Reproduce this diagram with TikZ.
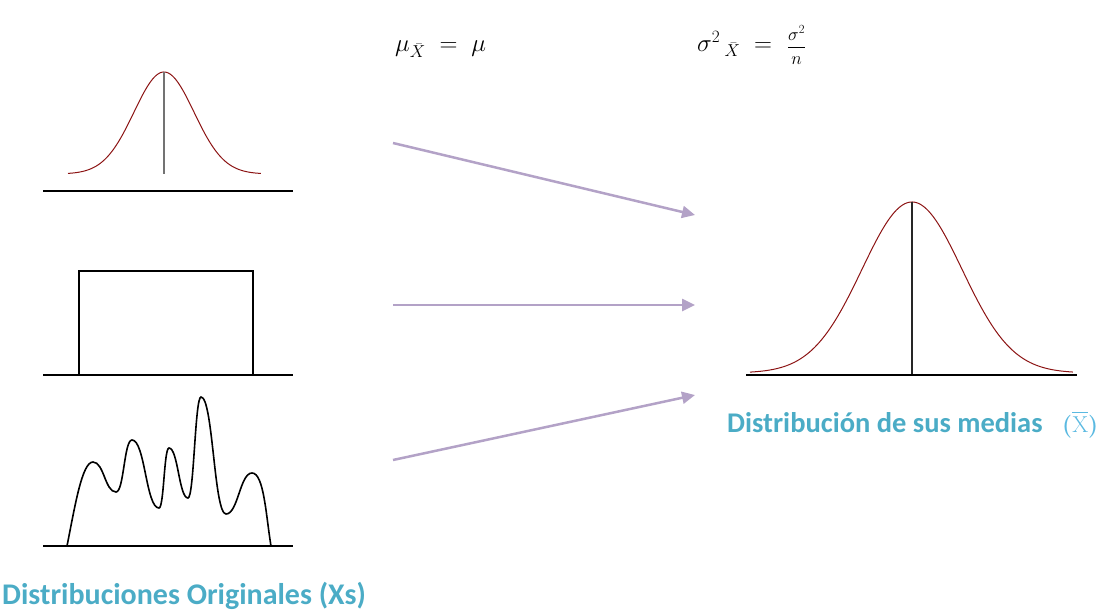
\documentclass[tikz,border=0pt]{standalone}
\usepackage{fontspec}
\usepackage{amsmath}
\usepackage{graphicx}
\newfontfamily\carlito{Carlito}
\usetikzlibrary{arrows.meta}
\definecolor{capblue}{RGB}{75,172,198}
\definecolor{iconblue}{RGB}{90,185,225}
\definecolor{arrowpurple}{RGB}{179,162,199}
\definecolor{curvered}{RGB}{140,20,20}
\tikzset{
  axisline/.style={line width=2pt,black},
  bell/.style={curvered,line width=1pt},
  meanline/.style={line width=1.2pt},
  flow/.style={arrowpurple,line width=2.5pt,-{Triangle[length=13pt,width=12pt]}},
  caption/.style={font=\carlito\bfseries\fontsize{30}{36}\selectfont,text=capblue,inner sep=0pt},
  formula/.style={font=\fontsize{27}{32}\selectfont,inner sep=0pt}
}
\begin{document}
\begin{tikzpicture}[x=1pt,y=1pt]
\useasboundingbox (0,0) rectangle (1099,-610);
% formulas
\node[formula,anchor=base west] (f1) at (395,-52) {$\mu_{\bar{X}} \mkern5mu=\mkern5mu \mu$};
\node[formula,anchor=west] (f2) at (697,-45) {$\sigma^{2}\,{}_{\bar{X}} \mkern5mu=\mkern6mu \vcenter{\hbox{\scalebox{0.72}{$\dfrac{\sigma^{2}}{n}$}}}$};
% top-left normal
\draw[axisline] (43,-191) -- (293,-191);
\draw[bell] plot[domain=-3.2:3.23,samples=120,smooth] ({164+30*\x},{-174+102*exp(-\x*\x/2)});
\draw[meanline,black!55] (164,-72) -- (164,-174);
% uniform
\draw[axisline] (43,-375) -- (293,-375);
\draw[line width=1.6pt] (79,-375) -- (79,-271) -- (253,-271) -- (253,-375);
% multimodal
\draw[axisline] (43,-546) -- (293,-546);
\draw[line width=1.6pt] (67,-546) .. controls +(8,40) and +(-11,0) .. (93,-462)
  .. controls +(11,0) and +(-11,0) .. (116,-492)
  .. controls +(8,0) and +(-8,0) .. (132,-440)
  .. controls +(13,0) and +(-13,0) .. (159,-508)
  .. controls +(5,0) and +(-5,0) .. (169,-448)
  .. controls +(9,0) and +(-9,0) .. (188,-498)
  .. controls +(6,0) and +(-6,0) .. (201,-397)
  .. controls +(12,0) and +(-12,0) .. (226,-514)
  .. controls +(12,0) and +(-12,0) .. (252,-473)
  .. controls +(12,0) and +(-5,30) .. (271,-546);
% right normal
\draw[axisline] (746,-375) -- (1077,-375);
\draw[bell] plot[domain=-3.24:3.22,samples=160,smooth] ({912+50*\x},{-373+171*exp(-\x*\x/2)});
\draw[meanline,black!85] (912,-202) -- (912,-374);
% arrows
\coordinate (a1s) at (393,-143); \coordinate (a1e) at (695,-215);
\coordinate (a2s) at (393,-305); \coordinate (a2e) at (695,-305);
\coordinate (a3s) at (393,-460); \coordinate (a3e) at (695,-395);
\draw[flow] (a1s) -- (a1e);
\draw[flow] (a2s) -- (a2e);
\draw[flow] (a3s) -- (a3e);
% captions
\node[caption,anchor=base west] (c1) at (2,-604) {Distribuciones Originales (Xs)};
\node[caption,anchor=base west,font=\carlito\bfseries\fontsize{28.5}{34}\selectfont] (c2) at (727,-432) {Distribución de sus medias};
\node[anchor=base west,inner sep=0pt,text=iconblue,font=\fontsize{23}{28}\selectfont\bfseries] (c3) at (1062,-432) {($\overline{\mathrm{X}}$)};
\end{tikzpicture}
\end{document}
